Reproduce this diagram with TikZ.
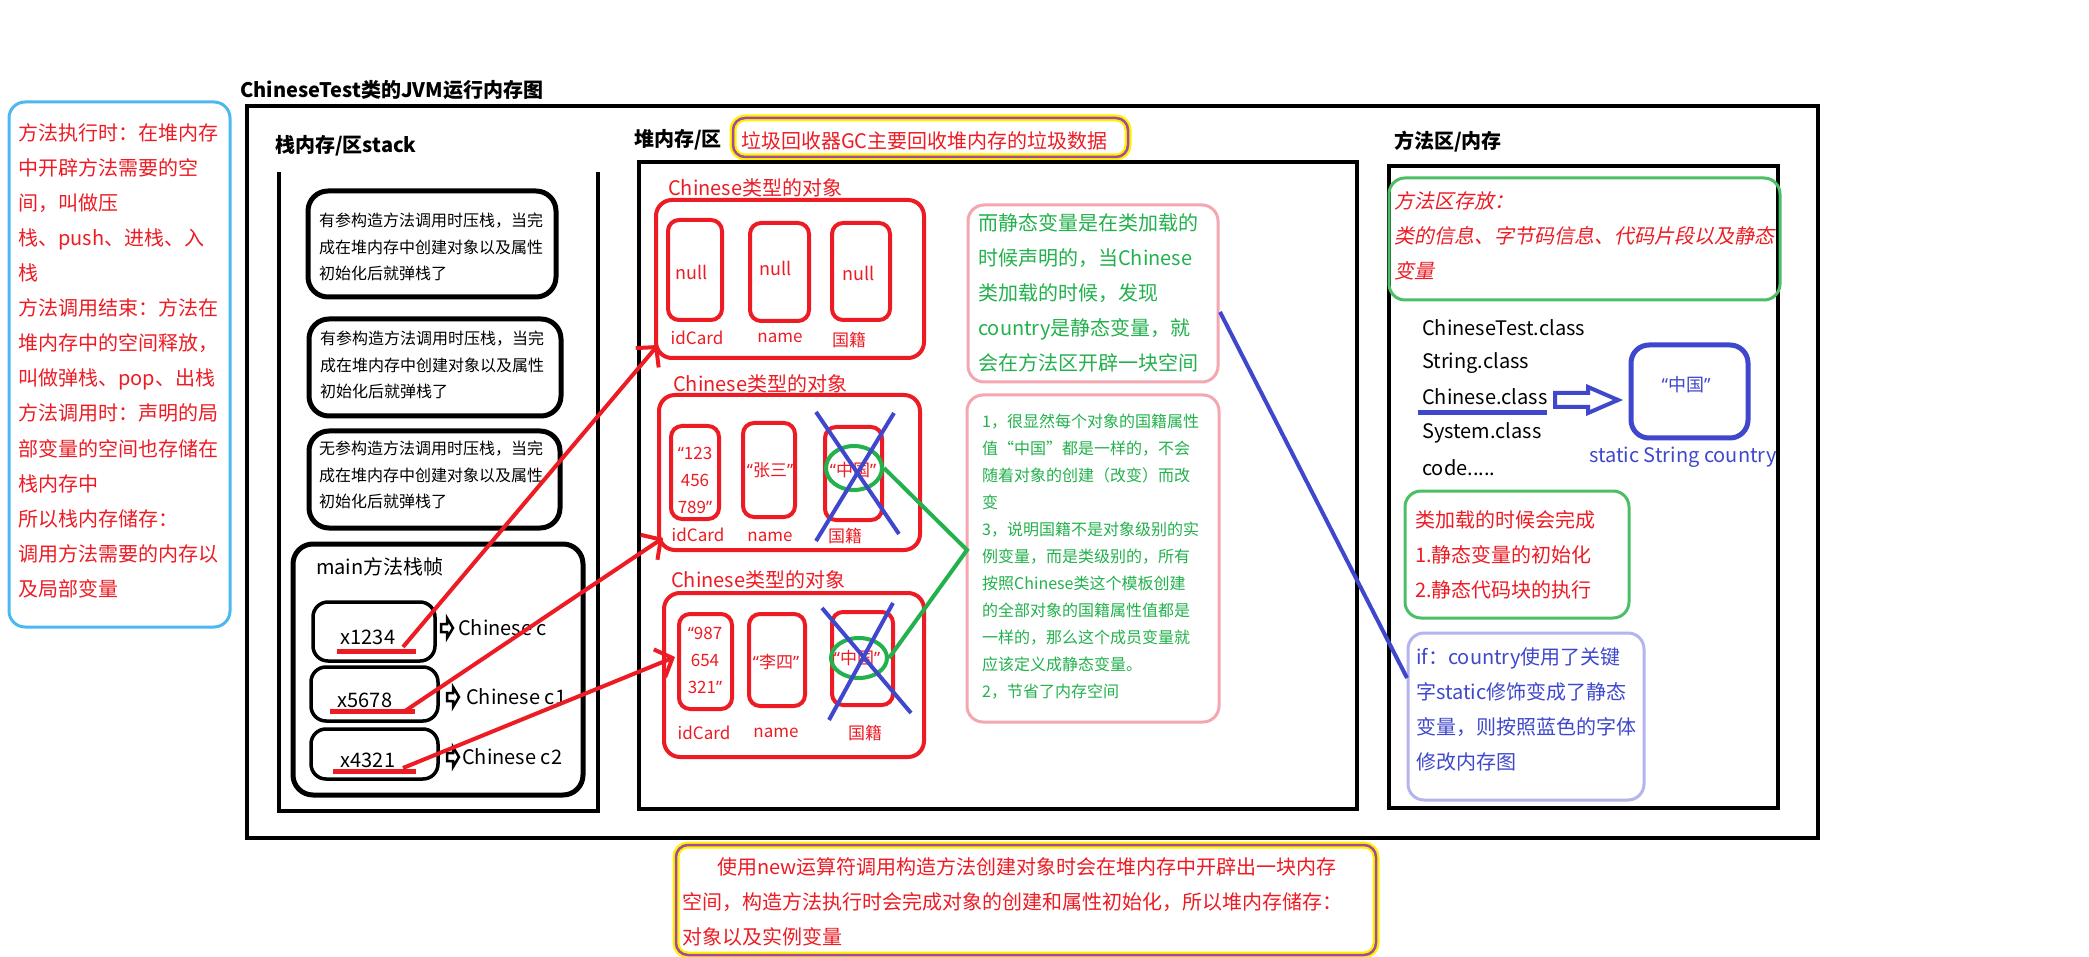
\documentclass[tikz,border=0pt]{standalone}
\usepackage{fontspec}
\setmainfont{Noto Sans CJK SC}
\newfontfamily\slantfont{Noto Sans CJK SC}[FakeSlant=0.2]
\newfontfamily\quotefont{Noto Sans}
\usetikzlibrary{arrows.meta,shapes.geometric}
\definecolor{pred}{HTML}{ED1C24}
\definecolor{pblue}{HTML}{3F48CC}
\definecolor{pgreen}{HTML}{22B14C}
\definecolor{skyline}{HTML}{4DB8F0}
\definecolor{pinkline}{HTML}{F4A7B0}
\definecolor{lavline}{HTML}{B4B4EE}
\definecolor{dashgreen}{HTML}{4CBE64}
\definecolor{hlyellow}{HTML}{FFF200}
\definecolor{hlpurple}{HTML}{A349A4}
\newcommand{\setfs}[2]{\fontsize{#1}{#2}\selectfont}
\newcommand{\oq}{{\quotefont “}}
\newcommand{\cq}{{\quotefont ”}}
\begin{document}
\begin{tikzpicture}[x=1pt, y=-1pt,
    txt/.style={inner sep=0pt, anchor=north west, align=left},
    word/.style={inner sep=0pt, anchor=west},
    hdr/.style={word, font=\setfs{20}{24}\bfseries},
    blackframe/.style={draw, line width=4pt},
    callframe/.style={draw, line width=5pt, rounded corners=20pt},
    varbox/.style={draw, line width=3.5pt, rounded corners=15pt},
    objbox/.style={draw=pred, line width=4pt, rounded corners=16pt},
    cellbox/.style={draw=pred, line width=4pt, rounded corners=11pt},
    notebox/.style={line width=3pt, rounded corners=16pt},
    hlbox/.style={draw=hlpurple, line width=2.5pt, rounded corners=12pt, preaction={draw=hlyellow, line width=7pt}},
    reftext/.style={inner sep=0pt, text=pred, font=\setfs{17}{27}},
    ring/.style={ellipse, draw=pgreen, line width=4pt, inner sep=0pt},
    cross/.style={draw=pblue, line width=4pt},
    hollowmark/.style={draw, line width=2.5pt, line join=miter},
    refarrow/.style={draw=pred, line width=4pt, -{Straight Barb[length=14pt,width=30pt]}},
  ]
    % Page and margins
    \fill[white] (0,0) rectangle (2089,957);
    \useasboundingbox (0,0) rectangle (2089,957);

    % Left note
    \draw[notebox, draw=skyline] (9,102) rectangle (230,627);
    \node[txt, text=pred, font=\setfs{20}{35.1}] (stacknote) at (18,123) {方法执行时：在堆内存\\中开辟方法需要的空\\间，叫做压\\栈、push、进栈、入\\栈\\方法调用结束：方法在\\堆内存中的空间释放，\\叫做弹栈、pop、出栈\\方法调用时：声明的局\\部变量的空间也存储在\\栈内存中\\所以栈内存储存：\\调用方法需要的内存以\\及局部变量};

    % Title and outer frame
    \node[hdr] (title) at (240,90) {ChineseTest类的JVM运行内存图};
    \draw[blackframe] (247,106) rectangle (1818,838);

    % Stack
    \node[hdr] (stackhdr) at (275,146) {栈内存/区stack};
    \draw[blackframe] (279,172) -- (279,811) -- (598,811) -- (598,172);
    \draw[callframe] (308,191) rectangle (556,297);
    \node[txt, font=\setfs{16}{26.5}] (call1) at (319,213) {有参构造方法调用时压栈，当完\\成在堆内存中创建对象以及属性\\初始化后就弹栈了};
    \draw[callframe] (309,319) rectangle (561,416);
    \node[txt, font=\setfs{16}{26.5}] (call2) at (320,331) {有参构造方法调用时压栈，当完\\成在堆内存中创建对象以及属性\\初始化后就弹栈了};
    \draw[callframe] (309,431) rectangle (560,528);
    \node[txt, font=\setfs{16}{26.5}] (call3) at (319,441) {无参构造方法调用时压栈，当完\\成在堆内存中创建对象以及属性\\初始化后就弹栈了};

    % main frame
    \draw[callframe] (293,544) rectangle (583,795);
    \node[word, font=\setfs{20}{24}] (mainhdr) at (316,567) {main方法栈帧};
    \draw[varbox] (313,602) rectangle (435,661);
    \node[font=\setfs{20}{24}, inner sep=0pt] (var1) at (368,637) {x1234};
    \draw[varbox] (311,667) rectangle (438,721);
    \node[font=\setfs{20}{24}, inner sep=0pt] (var2) at (365,700) {x5678};
    \draw[varbox] (311,729) rectangle (438,779);
    \node[font=\setfs{20}{24}, inner sep=0pt] (var3) at (368,760) {x4321};
    \draw[pred, line width=5pt] (337,651) -- (416,651);
    \draw[pred, line width=5pt] (330,711) -- (415,711);
    \draw[pred, line width=5pt] (333,771) -- (416,771);
    \draw[hollowmark] (441,628) ++(0,-4) -- ++(6,0) -- ++(0,-6) -- ++(6,10) -- ++(-6,10) -- ++(0,-6) -- ++(-6,0) -- cycle;
    \node[word, font=\setfs{20}{24}] (ref1) at (458,628) {Chinese c};
    \draw[hollowmark] (447,697) ++(0,-4) -- ++(6,0) -- ++(0,-6) -- ++(6,10) -- ++(-6,10) -- ++(0,-6) -- ++(-6,0) -- cycle;
    \node[word, font=\setfs{20}{24}] (ref2) at (466,697) {Chinese c1};
    \draw[hollowmark] (447,757) ++(0,-4) -- ++(6,0) -- ++(0,-6) -- ++(6,10) -- ++(-6,10) -- ++(0,-6) -- ++(-6,0) -- cycle;
    \node[word, font=\setfs{20}{24}] (ref3) at (462,757) {Chinese c2};

    % Heap
    \node[hdr] (heaphdr) at (634,140) {堆内存/区};
    \draw[hlbox] (733,118) rectangle (1128,157);
    \node[word, text=pred, font=\setfs{20}{24}] (gcnote) at (741,141) {垃圾回收器GC主要回收堆内存的垃圾数据};
    \draw[blackframe] (639,162) rectangle (1357,809);

    % Object 1
    \node[word, text=pred, font=\setfs{20}{24}] (obj1hdr) at (668,188) {Chinese类型的对象};
    \draw[objbox] (656,200) rectangle (924,358);
    \draw[cellbox] (668,220) rectangle (722,320);
    \draw[cellbox] (750,223) rectangle (809,321);
    \draw[cellbox] (832,223) rectangle (890,320);
    \node[reftext, font=\setfs{18}{22}] (null1) at (692,272) {null};
    \node[reftext, font=\setfs{18}{22}] (null2) at (776,268) {null};
    \node[reftext, font=\setfs{18}{22}] (null3) at (859,273) {null};
    \node[reftext] (id1) at (697,338) {idCard};
    \node[reftext] (name1) at (780,338) {name};
    \node[reftext] (nat1) at (849,340) {国籍};

    % Object 2
    \node[word, text=pred, font=\setfs{20}{24}] (obj2hdr) at (673,384) {Chinese类型的对象};
    \draw[objbox] (659,395) rectangle (920,550);
    \draw[cellbox] (671,426) rectangle (719,519);
    \draw[cellbox] (743,423) rectangle (795,517);
    \draw[cellbox] (825,427) rectangle (882,520);
    \node[reftext, align=center] (idval2) at (695,480) {\oq123\\456\\789\cq};
    \node[reftext] (nameval2) at (770,470) {\oq 张三\cq};
    \node[reftext] (natval2) at (853,470) {\oq 中国\cq};
    \node[reftext] (id2) at (698,535) {idCard};
    \node[reftext] (name2) at (770,537) {name};
    \node[reftext] (nat2) at (845,536) {国籍};

    % Object 3
    \node[word, text=pred, font=\setfs{20}{24}] (obj3hdr) at (671,580) {Chinese类型的对象};
    \draw[objbox] (664,593) rectangle (924,757);
    \draw[cellbox] (679,614) rectangle (732,709);
    \draw[cellbox] (749,614) rectangle (805,706);
    \draw[cellbox] (832,612) rectangle (893,705);
    \node[reftext, align=center] (idval3) at (705,660) {\oq987\\654\\321\cq};
    \node[reftext] (nameval3) at (776,662) {\oq 李四\cq};
    \node[reftext] (natval3) at (857,658) {\oq 中国\cq};
    \node[reftext] (id3) at (704,733) {idCard};
    \node[reftext] (name3) at (776,733) {name};
    \node[reftext] (nat3) at (865,733) {国籍};

    % Crossed out country fields
    \node[ring, minimum width=56pt, minimum height=44pt] (ring1) at (854,468) {};
    \node[ring, minimum width=56pt, minimum height=40pt] (ring2) at (859,658) {};
    \draw[cross] (816,412) -- (899,534);
    \draw[cross] (894,413) -- (816,541);
    \draw[cross] (822,608) -- (911,713);
    \draw[cross] (893,603) -- (829,720);

    % Notes in the heap
    \draw[notebox, draw=pinkline] (968,205) rectangle (1218,382);
    \node[txt, text=pgreen, font=\setfs{20}{35}] (staticnote) at (978,213) {而静态变量是在类加载的\\时候声明的，当Chinese\\类加载的时候，发现\\country是静态变量，就\\会在方法区开辟一块空间};
    \draw[notebox, draw=pinkline] (967,395) rectangle (1219,722);
    \node[txt, text=pgreen, font=\setfs{16}{27}] (reasonnote) at (982,414) {1，很显然每个对象的国籍属性\\值“中国”都是一样的，不会\\随着对象的创建（改变）而改\\变\\3，说明国籍不是对象级别的实\\例变量，而是类级别的，所有\\按照Chinese类这个模板创建\\的全部对象的国籍属性值都是\\一样的，那么这个成员变量就\\应该定义成静态变量。\\2，节省了内存空间};
    \coordinate (apex) at (967,550);
    \draw[pgreen, line width=4pt] (ring1.east) -- (apex) -- (ring2.east);

    % Method area
    \node[hdr] (methodhdr) at (1394,142) {方法区/内存};
    \draw[blackframe] (1389,166) rectangle (1778,808);
    \draw[notebox, draw=dashgreen] (1389,178) rectangle (1780,300);
    \node[txt, text=pred, font=\setfs{20}{35}\slantfont] (areanote) at (1394,191) {方法区存放：\\类的信息、字节码信息、代码片段以及静态\\变量};
    \node[word, font=\setfs{20}{24}] (cls1) at (1422,328) {ChineseTest.class};
    \node[word, font=\setfs{20}{24}] (cls2) at (1422,363) {String.class};
    \node[word, font=\setfs{20}{24}] (cls3) at (1422,397) {Chinese.class};
    \node[word, font=\setfs{20}{24}] (cls4) at (1422,433) {System.class};
    \node[word, font=\setfs{20}{24}] (cls5) at (1422,468) {code.....};
    \draw[pblue, line width=5pt] (1418,413) -- (1547,413);
    \draw[pblue, line width=4pt, line join=miter] (1555,393) -- (1588,393) -- (1588,387) -- (1618,400) -- (1588,413) -- (1588,407) -- (1555,407) -- cycle;
    \draw[draw=pblue, line width=5pt, rounded corners=18pt] (1631,345) rectangle (1748,438);
    \node[inner sep=0pt, text=pblue, font=\setfs{18}{22}] (staticval) at (1686,385) {\oq 中国\cq};
    \node[word, text=pblue, font=\setfs{20}{24}] (staticvar) at (1589,457) {static String country};
    \draw[notebox, draw=dashgreen] (1405,491) rectangle (1629,618);
    \node[txt, text=pred, font=\setfs{20}{35}] (loadnote) at (1415,510) {类加载的时候会完成\\1.静态变量的初始化\\2.静态代码块的执行};
    \draw[notebox, draw=lavline] (1408,633) rectangle (1644,800);
    \node[txt, text=pblue, font=\setfs{20}{35}] (ifnote) at (1416,647) {if：country使用了关键\\字static修饰变成了静态\\变量，则按照蓝色的字体\\修改内存图};
    \coordinate (staticend) at (1220,312);
    \coordinate (ifend) at (1407,678);
    \draw[pblue, line width=4pt] (staticend) -- (ifend);

    % Bottom note
    \draw[hlbox] (676,845) rectangle (1376,955);
    \node[txt, text=pred, font=\setfs{20}{35}] (newnote) at (682,857) {\hspace*{35pt}使用new运算符调用构造方法创建对象时会在堆内存中开辟出一块内存\\空间，构造方法执行时会完成对象的创建和属性初始化，所以堆内存储存：\\对象以及实例变量};

    % References from stack to heap
    \coordinate (from1) at (403,647);
    \coordinate (to1) at (658,345);
    \coordinate (from2) at (405,711);
    \coordinate (to2) at (663,538);
    \coordinate (from3) at (403,768);
    \coordinate (to3) at (675,657);
    \draw[refarrow] (from1) -- (to1);
    \draw[refarrow] (from2) -- (to2);
    \draw[refarrow] (from3) -- (to3);
\end{tikzpicture}
\end{document}
